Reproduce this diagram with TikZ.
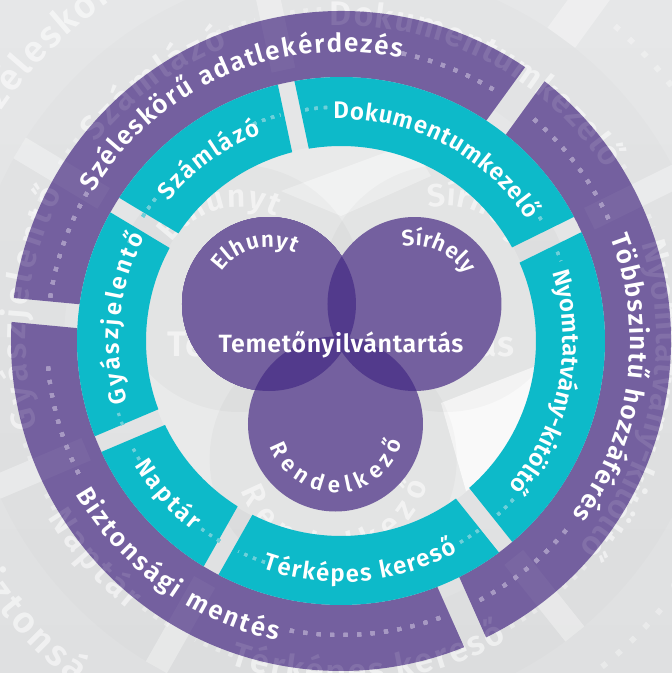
\documentclass[tikz,border=0pt]{standalone}
\usepackage{fontspec}
\usetikzlibrary{decorations.text,calc}
\newfontfamily\lab{Fira Sans}[UprightFont=* SemiBold]
\newfontfamily\titlelab{Fira Sans}[UprightFont=* SemiBold,LetterSpace=2.5]
\definecolor{ringpurple}{HTML}{74609F}
\definecolor{lensdark}{HTML}{523A8C}
\definecolor{ringteal}{HTML}{0DBAC9}
\definecolor{dotpurple}{HTML}{A799C3}
\definecolor{dotteal}{HTML}{6DD0DA}
\definecolor{bgA}{HTML}{E6E7E8}
\definecolor{bgB}{HTML}{DFE0E1}
\definecolor{discgray}{HTML}{E9EAEA}
\newcommand\seg[6]{%
  \pgfmathsetmacro\ao{asin(#5/#2)}\pgfmathsetmacro\ai{asin(#5/#1)}%
  \fill[#6] (#3+\ao:#2) arc[start angle=#3+\ao,end angle=#4-\ao,radius=#2]
    -- (#4-\ai:#1) arc[start angle=#4-\ai,end angle=#3+\ai,radius=#1] -- cycle;}
\newcommand\arclabel[7]{% cx,cy r a1 a2 size text
  \path[decorate,decoration={text along path,text align={fit to path},
     text={|\lab\fontsize{#6}{#6}\selectfont\color{white}|#7}}]
     ($(#1,#2)+(#4:#3)$) arc[start angle=#4,end angle=#5,radius=#3];}
\newcommand\ringlabels{%
  \arclabel{0}{0}{222}{196}{152}{24}{Gyászjelentő}
  \arclabel{0}{0}{222}{141}{111}{24}{Számlázó}
  \arclabel{0}{0}{222}{92}{33}{24}{Dokumentumkezelő}
  \arclabel{0}{0}{222}{18}{-41}{24}{Nyomtatvány-kitöltő}
  \arclabel{0}{0}{241}{251}{299}{24}{Térképes kereső}
  \arclabel{0}{0}{241}{211}{232}{24}{Naptár}
}
\newcommand\outerlabels{%
  \arclabel{0}{0}{289}{149}{78}{26}{Széleskörű adatlekérdezés}
  \arclabel{0}{0}{289}{21}{-37}{26}{Többszintű hozzáférés}
  \arclabel{0}{0}{306}{210}{258}{26}{Biztonsági mentés}
}
\newcommand\circlabels{%
  \arclabel{-72}{37}{57}{146}{63}{22.5}{Elhunyt}
  \arclabel{73.5}{37}{58}{102}{30}{22.5}{Sírhely}
  \arclabel{-5.5}{-83}{69}{199}{345}{22.5}{Rendelkező}
}
\newcommand\ghostlabels[1]{%
  \ringlabels\outerlabels\circlabels
  \node[font=\titlelab\fontsize{25}{25}\selectfont,text=white,anchor=base] (#1) at (0,-11) {Temetőnyilvántartás};}
\newcommand\dotsP[1]{\foreach \a/\b in {78/57,171.5/149,49/23,-40/-63.5,185/208,260/291.5}{
  \draw[#1,line width=4pt,dash pattern=on 4pt off 9.5pt] (\a:294) arc[start angle=\a,end angle=\b,radius=294];}}
\newcommand\dotsT[1]{\foreach \a/\b in {112/105,98.8/92,32/29.8,22.4/20,-42.6/-48.6,-54/-60,251/244,238.8/232.6,210.5/206.6,201/197.3,157.5/153.6,147.9/142}{
  \draw[#1,line width=3.2pt,dash pattern=on 3.2pt off 6.2pt] (\a:234) arc[start angle=\a,end angle=\b,radius=234];}}
\begin{document}
\begin{tikzpicture}[x=1pt,y=1pt]
\useasboundingbox (-341,-332) rectangle (331,341);
\clip (-341,-332) rectangle (331,341);
% background
\shade[top color=bgA,bottom color=bgB] (-341,-332) rectangle (331,341);
\fill[discgray] (0,0) circle[radius=196];
\begin{scope}
  \clip (0,0) circle[radius=196];
  \fill[white,opacity=.75] (100,-62) -- (195,-25) -- (195,-110) -- (125,-150) -- cycle;
  \fill[white,opacity=.4] (-60,150) -- (70,198) -- (90,165) -- (0,125) -- cycle;
\end{scope}
% ghost enlargement behind the ring
\begin{scope}[transform canvas={scale=1.42}]
  \begin{scope}[opacity=.025]
    \fill[black] (-72,37) circle[radius=87];
    \fill[black] (73.5,37) circle[radius=87];
    \fill[black] (-5.5,-83) circle[radius=87];
  \end{scope}
  \begin{scope}[opacity=.01]
    \fill[black,even odd rule] (0,0) circle[radius=264] (0,0) circle[radius=195];
  \end{scope}
  \begin{scope}[opacity=.33]
    \foreach \g in {26.2,102,149,203,240.5,308.6}
      \draw[white,line width=17pt] (\g:195) -- (\g:264);
    \foreach \g in {54,-66,174.6}
      \draw[white,line width=24pt] (\g:264) -- (\g:330);
    \dotsP{white}
    \dotsT{white}
  \end{scope}
  \begin{scope}[opacity=.5]
    \ghostlabels{ghosttitleA}
  \end{scope}
\end{scope}
% outer ring
\seg{264}{330}{54}{174.6}{12}{ringpurple}
\seg{264}{330}{-66}{54}{12}{ringpurple}
\seg{264}{330}{174.6}{294}{12}{ringpurple}
% ghost enlargement in front of the ring
\begin{scope}[transform canvas={scale=1.42}]
  \begin{scope}[opacity=.04]
    \foreach \g in {26.2,102,149,203,240.5,308.6}
      \draw[white,line width=17pt] (\g:195) -- (\g:264);
  \end{scope}
  \begin{scope}[opacity=.1]
    \ghostlabels{ghosttitleB}
  \end{scope}
\end{scope}
% teal ring
\foreach \a/\b in {102/149,26.2/102,-51.4/26.2,240.5/308.6,203/240.5,149/203}
  \seg{195}{264}{\a}{\b}{8.5}{ringteal}
% dots
\dotsP{dotpurple}
\dotsT{dotteal}
% circles
\fill[ringpurple] (-72,37) circle[radius=87];
\fill[ringpurple] (73.5,37) circle[radius=87];
\fill[ringpurple] (-5.5,-83) circle[radius=87.5];
\begin{scope}
  \clip (-72,37) circle[radius=87];
  \fill[lensdark] (73.5,37) circle[radius=87];
  \fill[lensdark] (-5.5,-83) circle[radius=87.5];
\end{scope}
\begin{scope}
  \clip (73.5,37) circle[radius=87];
  \fill[lensdark] (-5.5,-83) circle[radius=87.5];
\end{scope}
% labels
\outerlabels
\ringlabels
\circlabels
\node[font=\titlelab\fontsize{25}{25}\selectfont,text=white,anchor=base] (title) at (0,-11) {Temetőnyilvántartás};
\end{tikzpicture}
\end{document}
